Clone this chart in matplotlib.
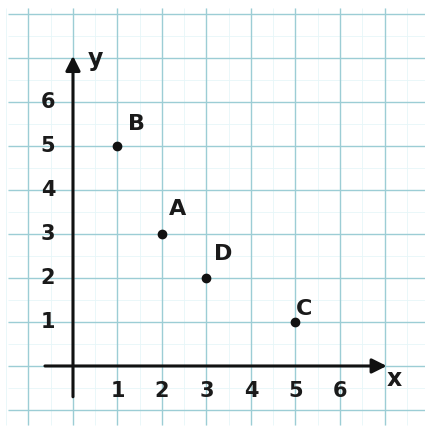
import numpy as np
import matplotlib.pyplot as plt

# points on the grid
names = ["A", "B", "C", "D"]
xs = [2, 1, 5, 3]
ys = [3, 5, 1, 2]
x_ticks = [1, 2, 3, 4, 5, 6]
y_ticks = [1, 2, 3, 4, 5, 6]

fig = plt.figure(figsize=(4.25, 4.28), dpi=100)
ax = fig.add_axes([0, 0, 1, 1])
ax.set_xlim(-1.64, 7.91)
ax.set_ylim(-1.41, 8.32)
ax.axis("off")

# graph paper
major = np.arange(-1, 8)
minor = np.arange(-1.5, 8, 0.5)
ax.vlines(minor, -1.35, 8.14, color="#e6f6f8", lw=0.6, zorder=0)
ax.hlines(minor[minor < 8.2], -1.45, 7.91, color="#e6f6f8", lw=0.6, zorder=0)
ax.vlines(major, -1.35, 8.14, color="#9ccdd5", lw=1.0, zorder=1)
ax.hlines(np.arange(-1, 9), -1.45, 7.91, color="#9ccdd5", lw=1.0, zorder=1)

# axes with arrows
arrow = dict(arrowstyle="-|>", lw=2.2, color="#111111", mutation_scale=22,
             shrinkA=0, shrinkB=0)
ax.annotate("", xy=(7.05, 0), xytext=(-0.63, 0), arrowprops=arrow, zorder=3)
ax.annotate("", xy=(0, 7.05), xytext=(0, -0.7), arrowprops=arrow, zorder=3)
ax.text(7.22, -0.3, "x", fontsize=17, fontweight="bold", color="#1a1a1a",
        ha="center", va="center")
ax.text(0.5, 6.98, "y", fontsize=17, fontweight="bold", color="#1a1a1a",
        ha="center", va="center")

for t in x_ticks:
    ax.text(t, -0.56, str(t), fontsize=15, fontweight="bold", color="#1a1a1a",
            ha="center", va="center")
for t in y_ticks:
    ax.text(-0.56, t, str(t), fontsize=15, fontweight="bold", color="#1a1a1a",
            ha="center", va="center")

ax.plot(xs, ys, "o", color="#111111", markersize=6, zorder=4)
offsets = {"A": (11, 18), "B": (14, 16), "C": (6, 9), "D": (12, 17)}
for n, x, y in zip(names, xs, ys):
    ax.annotate(n, (x, y), xytext=offsets[n], textcoords="offset points",
                fontsize=16, fontweight="bold", color="#1a1a1a",
                ha="center", va="center")

fig.savefig("out.png", dpi=100)
